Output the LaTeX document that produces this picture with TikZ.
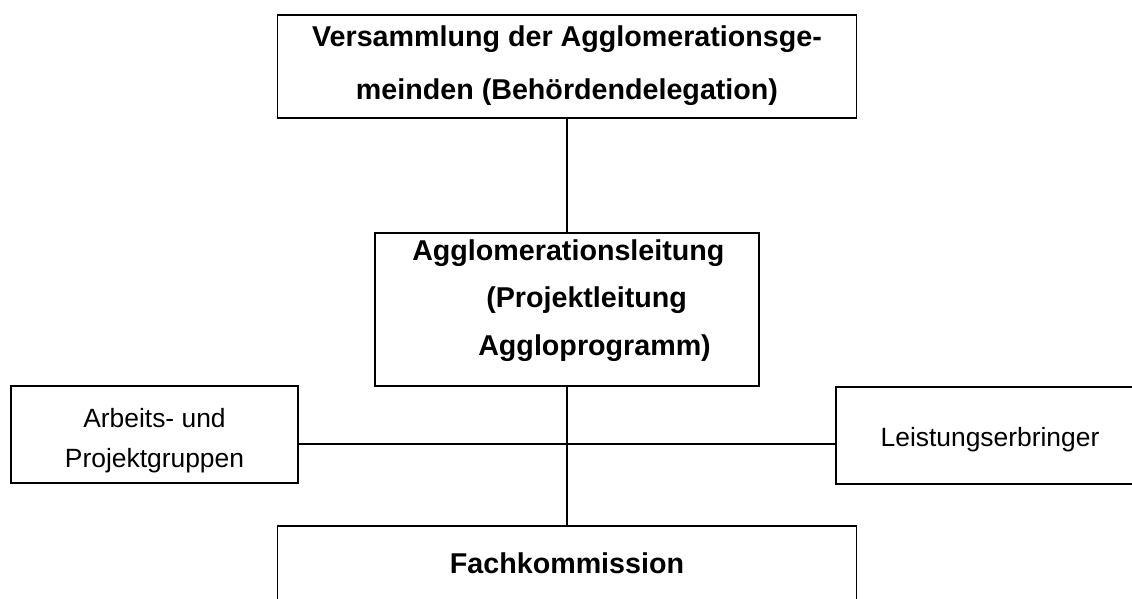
\documentclass[tikz,border=0pt]{standalone}
\usepackage{fontspec}
\setmainfont{Liberation Sans}
\begin{document}
\begin{tikzpicture}[x=0.75pt,y=-0.75pt,
  box/.style={draw, line width=1.4pt, rectangle, inner sep=0pt},
  bt/.style={font=\fontsize{21.5}{25}\selectfont\bfseries, inner sep=0pt, anchor=base},
  rt/.style={font=\fontsize{19.8}{23}\selectfont, inner sep=0pt, anchor=base},
  conn/.style={line width=1.4pt}]
\useasboundingbox (0,0) rectangle (1132,599);
\clip (0,0) rectangle (1132,599);
% boxes
\node[box, minimum width=434.25pt, minimum height=77.25pt] (top) at (567,66.5) {};
\node[box, minimum width=288pt, minimum height=114.75pt] (mid) at (567,309.5) {};
\node[box, minimum width=215.25pt, minimum height=72.75pt] (left) at (154.5,434.5) {};
\node[box, minimum width=231.75pt, minimum height=72.75pt] (right) at (990.5,435.5) {};
\node[box, minimum width=434.25pt, minimum height=85.5pt] (bot) at (567,583) {};
% texts
\node[bt] (t1) at (567,47) {Versammlung der Agglomerationsge-};
\node[bt] (t2) at (567,100) {meinden (Behördendelegation)};
\node[bt, anchor=base west] (m1) at (412,260) {Agglomerationsleitung};
\node[bt, anchor=base west] (m2) at (486,307) {(Projektleitung};
\node[bt, anchor=base west] (m3) at (478,355) {Aggloprogramm)};
\node[rt] (l1) at (154.5,427) {Arbeits- und};
\node[rt] (l2) at (154.5,467) {Projektgruppen};
\node[rt] (r1) at (990,446) {Leistungserbringer};
\node[bt] (b1) at (567,573) {Fachkommission};
% connectors
\coordinate (j) at (567,444);
\draw[conn] (top.south) -- (mid.north);
\draw[conn] (mid.south) -- (bot.north);
\draw[conn] (left.east |- j) -- (right.west |- j);
\end{tikzpicture}
\end{document}
